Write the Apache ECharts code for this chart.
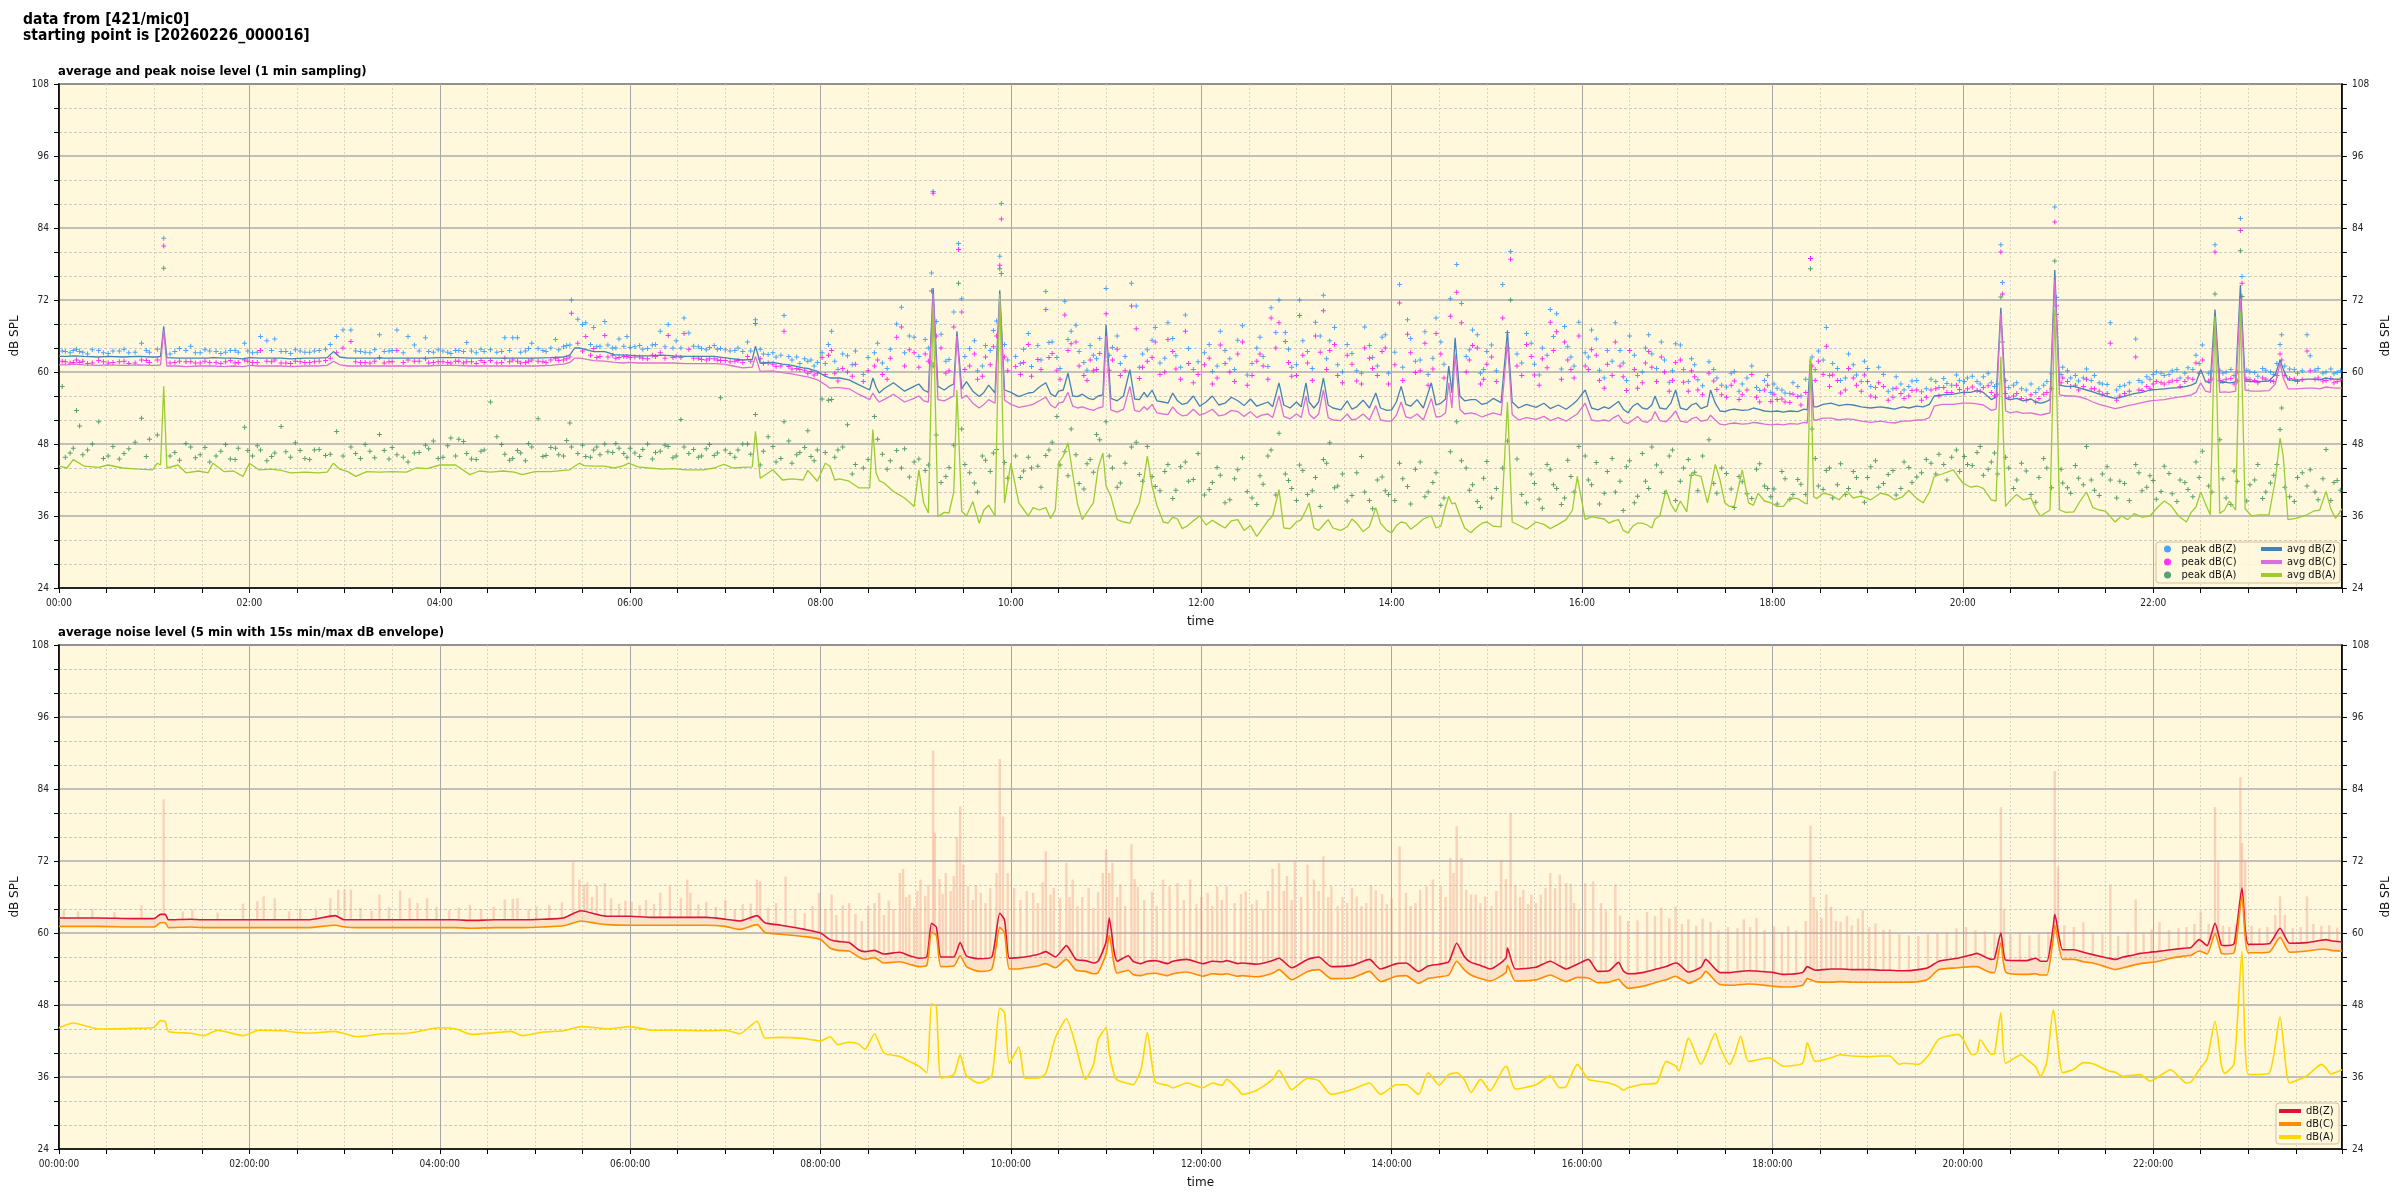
<!DOCTYPE html>
<html><head><meta charset="utf-8">
<script src="https://cdn.jsdelivr.net/npm/echarts@6/dist/echarts.min.js"></script>
<style>html,body{margin:0;padding:0;background:#fff}#c{width:2400px;height:1200px}</style>
</head><body><div id="c"></div>
<script>
// ---------- top plot: 1-min average lines (minutes since 00:00) ----------
const topT = [0,5,9,16,25,31,40,50,59,62,64,
 66,68,75,80,88,94,97,104,110,116,
 120,126,134,140,146,155,163,169,173,177,
 182,187,194,202,210,219,225,232,240,250,
 259,265,272,280,287,292,300,310,318,322,
 325,328,331,337,344,350,356,359,365,372,
 380,387,395,406,413,419,425,431,437,439,
 442,450,456,462,469,472,478,483,486,489,
 492,498,504,511,513,515,517,520,526,533,
 539,542,545,548,551,554,558,561,564,566,
 569,572,576,580,583,586,590,593,596,600,
 605,611,614,618,622,625,628,630,633,636,
 639,642,645,649,652,655,658,660,663,667,
 671,675,678,681,684,686,689,692,696,699,
 702,705,708,711,715,719,723,727,731,735,
 739,743,747,751,755,758,762,765,769,772,
 776,780,783,786,788,791,794,797,800,803,
 808,812,815,818,822,826,830,833,837,840,
 843,846,849,852,856,860,865,868,871,874,
 876,878,880,883,886,890,893,897,900,904,
 909,913,916,920,925,931,936,940,945,950,
 954,957,962,966,970,974,977,980,983,986,
 989,992,995,998,1001,1004,1006,1009,1013,1016,
 1019,1022,1026,1029,1032,1035,1039,1041,1044,1047,
 1050,1053,1056,1061,1065,1068,1071,1075,1079,1083,
 1087,1091,1096,1100,1102,1104,1106,1108,1112,1117,
 1122,1127,1131,1136,1142,1148,1153,1157,1162,1166,
 1171,1175,1179,1182,1187,1194,1200,1205,1209,1213,
 1218,1221,1224,1227,1230,1234,1238,1243,1246,1249,
 1252,1255,1258,1261,1265,1270,1274,1278,1282,1286,
 1290,1296,1300,1304,1308,1313,1318,1323,1327,1331,
 1336,1341,1344,1347,1350,1353,1356,1359,1362,1365,
 1368,1372,1375,1378,1382,1387,1393,1397,1400,1402,
 1405,1410,1417,1421,1425,1429,1432,1435,1439];
const avgZ = [62.6,62.6,62.7,62.6,62.5,62.6,62.5,62.6,62.5,62.5,62.6,
 67.6,62.4,62.3,62.3,62.3,62.3,62.4,62.3,62.3,62.2,
 62.4,62.3,62.3,62.3,62.2,62.3,62.3,62.4,63.4,62.5,
 62.3,62.3,62.3,62.3,62.3,62.3,62.3,62.3,62.4,62.4,
 62.3,62.3,62.3,62.3,62.3,62.3,62.3,62.4,62.5,62.8,
 64.0,64.0,63.8,63.4,63.4,62.9,62.8,62.8,62.7,62.7,
 62.8,62.7,62.6,62.6,62.6,62.4,62.2,62.0,62.1,64.3,
 61.5,61.6,61.3,61.1,60.7,60.6,60.1,59.3,59.0,59.0,
 59.0,58.7,57.9,57.0,59.0,57.5,56.5,57.2,58.2,56.8,
 57.6,58.0,57.0,56.6,74.0,57.6,57.0,57.6,58.0,66.8,
 57.2,58.4,56.8,55.9,56.6,57.8,56.5,73.6,57.0,56.6,
 55.9,56.5,56.6,57.5,58.2,56.4,55.9,56.8,57.0,59.8,
 56.0,55.9,56.3,55.6,55.4,56.0,56.2,67.9,55.6,55.2,
 56.0,60.4,55.5,55.4,56.6,55.8,57.0,55.2,55.0,54.8,
 56.5,55.2,54.6,54.8,56.0,54.3,55.0,56.0,54.5,54.8,
 55.8,55.2,54.4,55.5,54.3,54.6,55.0,54.2,58.2,54.5,
 54.0,55.0,54.2,58.2,55.0,54.0,55.0,59.0,54.5,54.0,
 53.7,55.2,53.8,54.2,55.3,54.0,56.5,54.0,53.6,53.7,
 55.0,57.6,54.6,54.3,55.4,54.0,58.2,54.5,54.8,55.5,
 61.0,56.5,65.7,56.0,55.2,55.4,55.4,54.6,54.8,55.6,
 54.9,66.8,55.0,54.0,54.6,54.1,54.8,53.9,54.5,53.8,
 54.6,55.3,57.0,54.0,53.7,54.2,53.9,54.5,55.1,53.8,
 53.2,54.3,54.8,54.0,53.8,54.5,56.0,54.0,53.8,54.8,
 57.0,54.0,53.7,54.5,54.8,53.9,54.3,57.0,54.8,53.5,
 53.4,53.7,53.8,53.6,53.7,54.0,53.8,53.5,53.4,53.5,
 53.3,53.5,53.4,53.8,53.7,62.3,54.2,54.2,54.6,54.8,
 54.4,54.6,54.5,54.2,54.0,54.2,54.0,53.8,54.2,54.0,
 54.3,54.2,54.6,56.0,56.2,56.3,56.6,56.6,56.9,56.6,
 55.4,55.8,70.7,55.6,55.4,55.6,55.2,55.5,55.0,54.8,
 55.0,55.4,77.0,57.8,57.6,57.6,57.3,57.0,56.7,56.3,
 56.0,55.6,55.8,56.1,56.4,56.6,57.0,57.1,57.2,57.3,
 57.4,57.6,57.8,58.2,60.4,58.4,58.2,70.4,58.2,58.3,
 58.2,58.3,74.5,58.5,58.4,58.4,58.5,59.6,62.0,60.5,
 58.7,58.6,58.8,58.8,58.7,59.0,58.8,58.8,58.8];
const avgC = [61.2,61.2,61.3,61.2,61.1,61.2,61.1,61.2,61.1,61.1,61.2,
 67.0,61.0,61.0,60.9,61.0,61.0,61.0,60.9,61.0,60.9,
 61.1,61.0,61.0,61.0,60.9,61.0,61.0,61.1,61.8,61.2,
 61.0,61.0,61.0,61.0,61.0,61.0,61.0,61.0,61.1,61.1,
 61.0,61.0,61.0,61.0,61.0,61.0,61.0,61.1,61.3,61.6,
 62.3,62.3,62.2,61.9,61.8,61.6,61.5,61.6,61.5,61.5,
 61.5,61.5,61.4,61.4,61.4,61.3,61.0,60.7,60.8,62.6,
 60.1,60.2,59.9,59.7,59.3,59.2,58.7,57.9,57.3,57.4,
 57.4,57.2,56.3,55.4,56.5,55.6,55.0,55.4,56.3,55.0,
 55.6,56.0,55.2,55.0,73.0,55.4,55.2,55.6,56.0,66.0,
 55.6,56.1,54.8,54.0,54.6,55.4,54.8,72.5,55.3,54.6,
 54.1,54.4,54.6,55.2,55.8,54.5,54.0,54.8,55.0,56.6,
 54.3,54.0,54.2,53.8,53.6,54.0,54.2,66.0,53.7,53.3,
 53.8,57.6,53.6,53.4,54.2,53.7,54.6,53.2,53.0,52.9,
 54.2,53.2,52.7,52.8,53.8,52.8,53.2,53.8,52.7,52.9,
 53.6,53.4,52.6,53.4,52.4,52.8,53.0,52.4,56.0,52.6,
 52.2,53.0,52.4,56.0,53.0,52.2,53.0,57.0,52.4,52.0,
 51.9,53.0,52.0,52.2,53.0,52.0,54.4,52.0,51.8,51.8,
 52.8,55.0,52.5,52.3,53.0,52.0,55.6,52.5,52.6,53.2,
 58.2,54.0,63.0,53.8,53.0,53.2,53.0,52.5,52.8,53.2,
 52.8,65.0,52.9,52.0,52.4,52.1,52.6,51.9,52.4,51.8,
 52.5,53.0,54.8,52.0,51.8,52.0,51.8,52.4,52.8,51.7,
 51.4,52.0,52.6,51.8,51.6,52.2,53.4,51.9,51.7,52.5,
 53.5,51.8,51.6,52.2,52.5,51.8,52.0,52.8,52.0,51.3,
 51.2,51.4,51.5,51.3,51.4,51.6,51.5,51.3,51.2,51.3,
 51.2,51.4,51.3,51.6,51.5,60.5,52.0,52.0,52.3,52.3,
 52.0,52.2,52.1,51.8,51.6,51.8,51.6,51.5,51.8,51.8,
 52.0,52.0,52.4,54.3,54.6,54.6,54.8,54.8,54.7,54.5,
 53.6,53.8,69.8,53.5,53.2,53.4,53.1,53.2,53.0,52.8,
 53.0,53.2,75.4,56.2,56.0,56.0,55.8,55.5,55.0,54.6,
 54.3,53.9,54.1,54.4,54.6,54.9,55.2,55.3,55.4,55.6,
 55.8,56.0,56.2,56.6,58.2,56.8,56.6,68.5,56.6,56.7,
 56.6,56.8,72.3,57.0,56.8,56.8,56.9,58.0,61.5,59.0,
 57.2,57.2,57.3,57.3,57.2,57.5,57.4,57.3,57.3];
const avgA = [44.3,44.0,45.4,44.3,44.1,44.5,44.0,43.8,43.7,44.8,44.5,
 57.6,44.0,44.5,43.2,43.5,43.2,44.8,43.4,43.5,42.6,
 44.8,43.7,43.8,43.6,43.2,43.3,43.2,43.3,44.8,43.8,
 43.4,42.6,43.4,43.3,43.4,43.3,44.0,43.9,44.5,44.5,
 42.9,43.5,43.3,43.5,43.3,42.9,43.4,43.4,43.6,43.7,
 44.3,44.8,44.4,44.3,44.3,44.0,44.4,44.8,44.2,44.0,
 43.8,43.9,43.7,43.7,44.0,44.6,44.0,44.1,44.2,50.1,
 42.3,43.7,42.0,42.2,42.0,43.6,41.8,44.8,44.3,42.0,
 42.2,41.8,40.7,40.7,50.4,43.2,41.9,41.5,40.1,39.0,
 37.6,43.7,38.2,36.5,71.0,35.9,36.6,36.5,40.0,57.0,
 36.8,36.0,38.4,34.8,37.0,37.8,36.0,73.0,38.2,44.8,
 38.2,36.0,37.4,37.0,37.4,35.6,37.0,44.8,46.0,48.2,
 43.0,38.0,35.4,37.0,38.2,44.0,46.5,41.0,39.3,35.4,
 35.0,34.8,36.6,38.2,42.5,46.0,41.0,37.8,35.0,34.8,
 35.8,35.5,33.9,34.3,35.2,36.0,34.5,35.3,34.6,34.0,
 35.2,35.4,33.6,34.4,32.6,33.7,35.2,36.0,40.4,34.0,
 33.9,35.0,35.4,37.0,38.2,34.0,33.6,34.5,35.4,34.0,
 33.6,34.2,35.5,34.8,33.4,34.2,37.4,34.8,33.6,33.2,
 34.4,35.0,34.8,33.8,34.6,35.5,36.0,34.0,34.3,37.5,
 39.3,38.0,38.2,36.0,34.0,33.2,34.0,34.8,35.0,34.3,
 34.2,55.0,35.0,34.5,33.8,35.0,34.6,33.9,34.6,35.4,
 37.0,42.6,35.4,35.9,35.7,35.5,34.8,35.2,35.4,33.6,
 33.2,34.3,34.8,34.8,34.5,34.0,35.5,36.0,40.4,38.0,
 36.7,38.5,36.7,43.2,42.8,42.6,38.2,40.5,44.6,42.0,
 38.2,37.6,37.6,43.7,38.2,37.8,39.8,38.5,38.2,37.6,
 37.6,39.0,38.9,38.2,38.0,62.3,39.2,38.9,39.8,39.5,
 38.7,40.1,39.0,39.3,38.7,39.8,39.5,38.7,39.2,40.3,
 38.9,38.2,40.0,42.6,43.0,43.7,41.5,40.8,41.0,40.6,
 38.7,38.5,62.6,37.6,38.6,39.6,38.7,39.0,37.2,36.0,
 36.5,37.0,70.4,37.0,36.6,36.7,38.5,40.0,37.4,37.0,
 36.8,35.0,36.0,35.4,36.4,35.8,36.0,37.5,38.5,37.8,
 36.0,35.0,36.6,37.5,40.0,38.0,36.2,69.3,36.4,37.0,
 38.5,37.0,70.1,37.2,36.0,36.2,36.2,42.0,49.0,46.0,
 35.4,35.6,36.2,36.8,37.0,40.1,37.2,35.6,37.2];

// ---------- top plot: 1-min peaks (a reading of the dots) ----------
const peakT = [2,7,11,13,18,25,31,38,44,52,57,
 62,66,70,76,83,89,95,102,108,113,117,
 122,127,131,136,140,146,152,158,164,171,175,179,
 184,190,196,202,208,213,220,224,231,236,
 242,247,252,257,263,268,272,276,281,286,289,294,298,
 302,307,313,318,322,323,327,330,332,337,341,344,349,353,358,
 363,368,374,379,384,389,392,394,397,403,408,413,417,
 423,428,434,439,442,447,452,457,462,467,472,476,481,
 485,487,491,497,502,507,514,519,524,528,531,536,
 542,546,550,551,556,561,567,569,574,579,584,589,593,594,598,
 603,608,613,617,622,626,629,634,638,643,648,652,656,660,
 664,669,676,679,683,689,694,699,704,710,715,
 722,727,732,738,743,749,755,759,764,769,773,777,
 782,787,792,797,801,806,812,818,823,828,834,838,
 842,845,850,855,861,866,871,877,881,884,889,894,898,
 903,910,915,919,925,930,935,940,944,949,953,958,
 962,966,971,976,981,986,990,995,1000,1004,1010,1015,1019,
 1024,1029,1033,1040,1045,1051,1056,1061,1067,1072,1077,
 1083,1088,1093,1098,1104,1105,1109,1114,1118,1123,1128,1133,1138,
 1142,1147,1153,1158,1163,1168,1174,1180,1185,1190,1196,
 1201,1206,1211,1216,1220,1224,1225,1229,1234,1240,1246,1251,1256,1258,1259,
 1263,1268,1273,1278,1283,1288,1293,1297,1302,1309,1313,1318,
 1322,1327,1332,1337,1342,1347,1351,1355,1359,1362,1366,1371,1375,1376,
 1381,1386,1391,1396,1400,1401,1406,1411,1417,1419,1424,1429,1434,1438,
 4,9,15,21,28,34,41,48,55,73,80,86,92,99,105,111,119,
 125,134,143,149,155,161,168,187,193,199,205,210,217,227,233,239,
 245,250,255,260,266,279,284,291,296,305,310,315,320,335,339,346,
 351,356,360,366,371,376,382,387,400,405,410,415,420,426,431,436,
 444,450,455,460,465,470,474,478,483,
 489,494,500,510,516,522,533,539,548,553,559,564,571,577,582,587,591,596,
 606,611,619,624,631,636,641,646,650,654,662,667,672,681,686,691,697,702,
 707,712,718,725,730,735,741,746,752,757,762,767,775,780,784,790,795,799,
 804,809,815,821,826,831,836,847,852,858,863,868,873,887,891,896,900,906,
 913,922,928,933,938,942,947,951,955,
 964,969,974,979,984,988,993,998,1002,1007,1012,1017,1022,1027,1031,1036,
 1043,1048,1054,1059,1064,1070,1075,1079,
 1081,1086,1091,1096,1101,1107,1112,1116,1121,1126,1131,1136,1140,1145,
 1150,1156,1161,1166,1171,1177,1183,1188,1193,1198,
 1203,1209,1213,1218,1222,1227,1232,1237,1243,1248,1253,1262,1266,1271,
 1276,1281,1286,1291,1299,1305,1311,1316,1320,1325,1330,1335,1340,1345,
 1349,1357,1364,1369,1373,1379,1384,1389,1394,1398,1403,1409,1414,1422,
 1427,1432,1436];
const peakZ = [63.5,63.2,63.8,63.4,63.0,63.6,63.1,63.5,63.2,64.8,63.3,
 63.8,82.3,63.0,63.9,64.3,63.2,63.5,63.1,63.6,63.3,64.8,
 63.2,65.9,65.2,65.5,63.4,63.1,63.5,63.3,63.6,64.6,65.9,67.0,
 67.0,63.4,63.2,66.2,63.5,67.0,65.9,64.5,65.7,63.3,
 63.5,63.1,63.6,64.9,63.2,63.4,63.7,63.3,65.7,65.7,65.7,63.5,64.8,
 63.9,63.4,65.4,64.2,64.5,72.0,68.8,67.9,68.2,67.4,64.3,68.4,64.0,65.5,65.9,
 64.2,63.8,64.5,66.8,67.9,65.2,64.0,69.0,66.5,64.2,63.7,64.4,63.9,
 63.5,64.0,65.0,68.7,63.8,62.9,62.5,69.4,62.0,61.4,61.8,61.0,63.2,
 64.6,66.8,60.4,62.7,63.5,59.6,63.2,61.5,63.8,68.0,70.8,66.0,
 62.6,65.4,76.5,90.1,66.3,62.1,81.4,72.2,63.9,60.2,64.4,66.9,79.3,88.1,62.0,
 62.6,63.8,60.9,64.4,73.4,65.0,62.4,71.8,66.8,63.4,60.3,62.8,65.6,73.9,
 64.1,61.4,74.8,71.0,63.0,65.3,61.5,68.2,62.7,69.5,60.4,
 63.2,60.1,66.8,62.2,65.3,59.5,64.0,62.6,70.7,72.0,66.6,60.8,
 72.0,63.4,68.3,72.8,65.2,61.2,64.6,60.2,67.5,62.4,65.8,59.8,
 63.3,74.6,68.7,61.8,66.7,62.3,65.0,72.2,77.9,71.4,63.7,66.2,60.4,
 64.5,74.6,80.1,63.0,66.4,61.3,64.0,70.4,69.7,67.6,62.5,68.3,
 63.2,67.0,60.3,63.6,68.2,61.5,66.0,59.4,64.0,63.0,65.0,58.3,64.7,
 60.4,62.2,58.7,61.7,59.0,57.5,60.1,58.0,61.0,56.9,59.4,
 57.3,56.5,58.2,56.0,78.9,62.5,63.5,67.4,61.4,58.6,63.0,59.5,61.8,
 57.6,60.8,56.8,59.2,57.0,58.5,56.7,58.8,57.4,58.1,59.5,
 58.4,59.3,58.0,59.8,57.6,81.2,74.9,57.4,58.2,57.0,56.6,57.8,59.7,87.5,72.4,
 60.8,59.0,58.5,60.5,59.4,58.0,68.2,57.0,57.8,65.5,58.3,58.8,
 60.0,59.4,60.2,59.0,60.7,62.8,64.5,59.8,81.2,60.3,60.0,59.4,85.6,75.9,
 60.0,59.3,60.3,59.6,64.6,66.2,60.5,59.8,66.2,62.7,60.6,60.0,59.7,60.2,
 63.4,63.6,63.3,63.7,63.2,63.5,63.8,63.3,63.6,63.4,63.6,63.2,63.7,63.4,63.3,63.6,63.5,
 63.3,63.6,63.4,63.7,63.3,63.5,63.8,63.5,63.3,63.7,63.4,63.6,63.2,63.5,63.4,63.7,
 63.3,63.6,63.4,63.5,63.8,63.4,63.6,63.3,63.9,63.6,64.0,63.7,64.4,64.6,64.2,64.5,
 64.0,64.3,64.1,64.4,63.9,64.6,64.2,64.0,64.3,63.9,64.1,63.8,63.7,63.6,63.4,63.5,
 63.0,63.2,62.8,62.6,62.5,62.2,62.0,61.6,61.4,
 61.8,63.0,61.2,62.4,64.8,60.6,63.2,65.8,64.0,68.4,61.8,70.0,62.6,65.2,61.0,63.6,68.5,64.6,
 61.4,66.4,62.0,64.9,60.6,65.4,67.8,61.6,64.4,62.2,62.8,66.0,62.6,60.8,63.7,67.4,62.3,65.6,
 60.8,63.9,61.7,64.6,61.0,63.6,60.4,67.7,61.4,65.8,60.9,66.6,63.8,61.2,65.2,60.6,66.0,62.2,
 67.4,60.0,63.1,59.8,64.4,61.0,66.2,60.8,65.6,62.0,59.6,69.0,61.3,62.6,67.0,59.8,63.4,60.2,
 66.6,61.5,64.8,59.5,62.8,65.9,60.5,64.2,61.0,
 62.5,65.5,59.0,61.8,63.6,58.6,62.8,60.0,66.2,60.6,62.0,60.2,64.5,58.4,61.2,57.7,
 60.4,57.8,59.8,56.8,59.0,57.4,58.6,56.6,
 58.0,57.0,56.4,57.6,58.8,60.4,62.0,59.4,60.6,59.0,61.2,58.4,60.6,57.4,
 59.6,57.2,58.0,57.6,58.6,57.2,58.4,58.9,57.8,58.6,
 59.0,58.4,59.2,58.2,58.0,58.6,57.8,57.2,58.0,57.2,58.4,59.6,60.2,59.4,
 59.0,58.6,58.2,57.9,57.6,58.2,58.6,59.2,59.6,59.8,59.6,60.4,59.8,60.4,
 61.4,60.2,59.8,60.4,60.0,60.3,59.9,60.6,60.0,61.4,61.0,60.4,60.2,60.3,
 59.8,60.5,59.9];
const peakC = [61.8,61.5,62.0,61.6,61.4,61.9,61.5,61.7,61.4,62.0,61.6,
 62.0,81.0,61.5,61.8,61.7,61.5,61.6,61.4,61.9,61.6,62.0,
 61.6,63.6,61.8,62.0,61.5,61.4,61.7,61.6,61.8,62.3,63.2,64.0,
 65.1,61.6,61.5,62.4,61.7,63.6,62.0,61.8,62.2,61.6,
 61.7,61.5,61.8,61.7,61.4,61.6,61.9,61.5,62.3,62.0,61.8,61.6,62.0,
 61.8,61.6,62.2,62.0,62.5,69.8,64.8,63.5,65.9,63.9,62.6,66.1,62.8,62.4,62.6,
 62.5,62.3,62.8,63.2,66.1,62.6,62.4,66.4,63.8,62.3,62.0,62.2,61.9,
 61.7,61.9,62.6,68.1,62.2,61.5,60.9,66.8,60.5,60.4,59.8,59.5,62.4,
 62.8,63.6,58.5,60.0,61.3,58.4,61.0,59.6,62.3,65.8,67.5,63.7,
 60.8,63.0,73.5,89.8,64.0,60.2,80.4,70.0,61.0,58.8,62.5,64.2,77.8,85.5,60.2,
 60.9,61.6,59.3,62.1,70.4,63.1,60.3,69.5,64.7,61.0,58.6,60.2,63.1,69.7,
 62.0,59.4,71.0,67.2,60.8,62.4,59.6,65.4,60.5,66.8,58.2,
 61.2,58.0,64.5,60.0,63.0,57.8,61.8,61.0,69.0,68.2,65.1,59.3,
 69.4,61.5,66.0,70.2,63.6,59.4,62.8,58.5,64.0,60.6,63.4,58.0,
 61.2,71.5,66.3,59.9,64.8,60.5,63.0,69.3,73.3,68.2,62.0,64.0,58.8,
 62.5,69.0,78.8,61.0,64.6,59.5,62.2,68.3,66.7,65.0,60.4,66.0,
 61.0,63.7,58.6,61.3,65.0,59.2,63.6,57.3,61.5,60.8,62.5,56.8,61.6,
 58.3,60.2,57.0,59.8,57.1,55.8,58.5,56.2,59.6,55.0,57.8,
 55.4,55.0,56.3,54.5,78.9,61.0,61.8,64.3,59.5,56.5,60.6,57.8,59.5,
 56.0,58.2,55.3,57.3,55.6,56.9,55.3,57.0,56.0,56.6,57.8,
 56.6,57.5,56.8,57.7,56.0,80.0,73.0,55.7,56.4,55.3,55.0,56.3,57.2,85.0,71.0,
 59.0,57.6,57.0,58.8,57.2,56.3,64.8,55.3,56.4,62.5,56.9,57.2,
 58.4,58.0,58.5,57.6,59.0,61.5,62.0,58.5,80.0,58.6,58.8,58.0,83.6,74.8,
 58.7,58.2,58.8,58.4,63.0,62.0,58.9,58.4,63.5,60.2,59.0,58.6,58.2,58.7,
 61.7,61.6,61.8,61.5,61.7,61.6,61.8,61.5,61.9,61.6,61.7,61.5,61.8,61.6,61.7,61.5,61.8,
 61.6,61.7,61.5,61.8,61.6,61.7,61.9,61.7,61.6,61.8,61.5,61.7,61.6,61.8,61.5,61.7,
 61.6,61.8,61.5,61.7,61.9,61.6,61.7,61.5,61.8,61.7,62.0,61.9,62.2,62.8,62.4,62.5,
 62.3,62.6,62.4,62.5,62.2,62.6,62.3,62.4,62.3,62.1,62.2,62.0,61.9,61.8,61.6,61.8,
 61.4,61.3,61.0,60.9,60.6,60.3,60.1,59.8,59.6,
 59.8,60.6,59.3,60.2,62.0,58.8,61.0,63.2,61.8,66.0,59.8,67.5,60.4,63.0,59.3,61.2,66.0,62.5,
 59.6,64.6,60.4,62.4,58.8,63.6,65.0,59.4,62.0,60.4,60.3,63.8,60.2,58.9,61.8,65.0,60.0,63.4,
 58.8,61.4,59.6,62.3,59.0,61.4,58.4,65.0,59.4,63.0,58.8,64.0,61.6,59.4,62.8,58.6,63.3,60.4,
 64.6,58.2,61.3,58.0,62.3,59.4,64.0,58.6,63.2,60.2,57.8,66.4,59.0,60.0,64.4,58.0,61.3,58.4,
 64.0,59.4,62.6,57.8,60.7,63.6,58.8,62.0,59.0,
 60.4,62.8,57.3,59.4,61.0,56.9,60.4,58.2,63.4,58.4,60.0,58.6,62.0,56.8,59.2,56.2,
 58.5,56.2,57.8,55.4,57.0,55.8,57.0,55.1,
 56.3,55.5,54.9,55.9,56.6,58.6,59.6,57.6,58.6,57.0,59.0,56.8,58.4,55.8,
 57.6,55.8,56.4,56.0,57.0,55.8,57.2,57.4,56.6,57.1,
 57.2,56.9,57.4,56.6,56.2,56.4,56.0,55.6,56.2,55.6,56.6,58.2,58.4,57.8,
 57.6,57.2,56.8,56.4,56.0,56.8,57.0,57.6,58.0,58.2,58.3,58.6,58.4,58.8,
 59.8,58.8,58.4,58.9,58.5,58.8,58.6,59.0,58.6,59.4,59.4,58.8,58.7,58.8,
 58.5,58.9,58.4];
const peakA = [57.6,46.5,53.6,51.0,47.0,51.7,46.0,45.5,47.2,52.3,48.8,
 49.5,77.3,46.0,45.3,47.5,46.2,45.0,46.8,45.5,47.3,50.8,
 46.0,47.0,45.2,46.5,50.9,45.8,46.9,45.4,47.1,46.3,50.1,46.0,
 47.5,45.6,46.8,49.6,45.5,46.2,45.0,46.5,47.8,48.5,
 45.8,49.0,48.8,46.4,45.4,47.0,55.0,49.2,46.3,45.6,46.9,45.2,47.5,
 52.2,46.1,47.3,46.0,51.5,47.5,46.4,47.8,45.9,47.0,46.2,48.0,46.6,47.3,45.8,
 46.5,47.1,45.5,46.8,47.6,46.0,52.1,47.5,46.4,45.8,47.2,46.1,55.7,
 46.4,47.0,48.0,52.9,44.5,49.2,45.0,51.7,44.8,46.6,50.2,45.2,55.5,
 55.3,55.4,47.0,51.2,44.6,44.0,52.6,46.3,45.2,46.9,44.0,42.5,
 45.5,43.6,61.5,61.0,41.6,44.1,74.8,50.5,43.2,40.0,45.3,46.5,77.2,76.4,42.3,
 46.0,43.5,44.0,44.3,46.1,48.3,52.6,46.7,50.5,41.4,44.7,43.3,48.7,51.7,
 44.0,41.5,47.5,48.3,41.8,42.6,40.2,44.6,40.3,45.0,42.1,
 39.5,41.6,42.8,38.7,43.7,40.1,37.9,41.3,47.0,49.8,43.0,40.6,
 44.5,39.6,42.4,45.4,48.2,41.0,38.5,43.2,40.0,37.2,42.5,39.6,
 38.6,44.8,40.9,43.8,39.2,41.6,37.8,46.7,51.7,45.2,40.3,38.4,42.3,
 39.0,44.0,72.0,45.5,38.2,41.4,37.3,43.7,40.6,39.0,42.6,47.6,
 46.0,41.2,38.0,43.4,40.0,36.9,45.2,39.3,41.8,47.5,43.3,46.0,38.6,
 44.0,42.8,40.2,48.7,39.8,43.1,37.4,41.7,38.9,44.7,40.6,
 38.0,42.2,39.6,41.3,77.2,50.5,41.0,43.6,39.0,44.7,40.6,42.4,38.3,
 44.2,40.8,42.9,39.5,45.0,41.6,43.2,44.8,46.3,42.0,47.0,
 45.9,44.4,47.6,43.8,46.5,72.5,65.0,44.0,42.0,43.5,38.3,45.6,40.7,78.5,69.6,
 41.5,39.8,42.3,47.6,40.3,43.0,42.0,39.0,41.4,44.6,40.2,42.7,
 38.8,44.3,39.7,42.0,40.4,45.0,46.8,41.0,73.0,48.7,39.0,43.5,80.2,72.6,
 41.2,44.6,40.0,42.8,50.4,54.0,39.2,42.4,41.0,43.7,38.7,47.1,41.6,40.3,
 45.8,47.3,46.2,48.0,45.6,47.6,46.4,48.3,45.9,46.6,48.1,45.7,47.4,46.0,47.9,45.4,46.9,
 47.7,45.9,46.7,48.2,45.6,47.0,46.1,46.4,47.9,45.7,46.9,47.4,45.8,46.6,47.2,45.6,
 47.7,46.0,48.4,45.5,46.8,47.9,45.3,46.5,48.1,45.9,47.4,46.2,48.6,45.8,47.5,46.7,
 48.1,46.4,47.3,45.9,48.0,46.6,47.8,45.7,47.1,46.0,47.9,46.5,47.0,45.8,48.0,46.3,
 46.8,47.6,45.6,48.5,46.2,47.4,45.9,47.0,46.6,
 45.8,47.5,43.0,45.4,48.8,43.8,47.2,45.0,44.5,49.5,42.6,47.8,44.6,41.5,46.0,43.4,47.1,44.9,
 42.4,45.8,40.8,47.0,44.5,42.7,46.2,40.5,45.4,49.6,46.0,40.8,44.8,42.9,47.6,40.9,43.4,38.9,
 44.2,41.8,46.4,40.4,44.1,38.2,42.2,45.7,39.0,42.7,46.0,39.5,41.9,38.6,43.6,40.2,37.6,44.8,
 40.7,43.0,39.4,45.9,38.6,42.0,40.2,42.2,38.0,45.0,40.0,43.2,39.0,44.0,41.2,37.4,45.1,40.6,
 48.5,39.6,43.0,38.8,44.6,41.2,37.9,45.3,40.0,
 42.0,44.9,39.8,45.6,41.8,44.2,38.2,46.4,40.6,44.5,39.8,47.0,41.8,45.4,43.3,46.0,
 41.4,44.0,40.5,42.6,39.7,43.8,41.0,39.2,
 40.5,43.4,38.8,42.1,39.6,45.6,40.4,44.0,41.2,39.6,43.4,40.0,42.4,45.2,
 41.4,43.6,40.6,44.1,42.5,45.4,43.0,44.6,45.8,43.4,
 44.6,46.6,42.8,45.0,43.0,45.8,40.6,44.8,39.6,42.4,44.0,43.8,40.7,44.4,
 41.2,42.0,39.4,44.2,41.8,38.6,43.2,40.8,41.9,40.1,43.1,38.4,41.6,39.2,
 42.4,40.0,42.2,37.9,41.8,38.5,42.0,38.9,41.5,44.6,40.8,38.4,43.2,40.0,
 42.2,38.6,41.9];

// ---------- bottom plot: 5-min averages ----------
const botT = [0,9,25,47,60,64,67,69,83,91,
 100,116,126,140,157,174,180,188,204,220,
 240,250,260,275,285,292,305,318,329,339,
 345,360,373,390,408,420,429,440,445,455,
 470,480,486,491,498,504,508,514,520,530,
 536,542,547,550,553,556,564,568,572,580,
 588,593,596,599,605,609,617,622,628,635,
 641,647,652,655,660,662,665,667,674,677,
 682,686,691,699,702,711,721,727,733,736,
 743,746,755,765,769,777,787,794,802,815,
 826,833,843,849,857,863,870,876,881,886,
 890,896,902,912,913,918,931,940,946,950,
 957,964,970,977,983,986,989,998,1007,1013,
 1019,1021,1026,1027,1035,1038,1044,1047,1053,1056,
 1060,1065,1078,1081,1087,1099,1102,1107,1117,1123,
 1130,1142,1148,1154,1160,1163,1172,1178,1185,1197,
 1200,1206,1209,1211,1218,1220,1224,1227,1237,1240,
 1246,1249,1253,1257,1258,1263,1270,1276,1282,1292,
 1296,1301,1307,1312,1318,1322,1331,1341,1344,1349,
 1354,1359,1363,1365,1371,1376,1380,1393,1400,1406,
 1417,1426,1429,1432,1439];
const botZ = [62.5,62.5,62.5,62.4,62.4,63.1,63.1,62.2,62.3,62.2,
 62.2,62.2,62.2,62.2,62.2,62.9,62.2,62.2,62.2,62.2,
 62.2,62.2,62.1,62.2,62.2,62.2,62.3,62.5,63.7,63.1,
 62.8,62.8,62.6,62.6,62.6,62.3,62.0,62.9,61.7,61.3,
 60.6,60.0,58.9,58.6,58.4,57.2,56.9,57.1,56.5,56.8,
 56.2,55.8,56.0,61.6,61.0,56.0,56.0,58.4,56.2,55.7,
 56.0,63.3,62.2,55.8,55.9,56.0,56.4,56.9,56.0,57.9,
 55.6,55.4,55.0,55.3,58.5,62.5,57.0,55.3,56.2,55.3,
 54.9,55.3,55.4,54.9,55.3,55.6,54.9,55.3,55.2,55.4,
 54.9,55.0,54.8,55.4,55.8,54.2,55.6,56.0,54.4,54.6,
 55.6,54.0,54.9,55.0,53.6,54.5,54.8,55.2,58.3,56.0,
 55.1,54.6,54.0,55.8,57.5,54.0,54.3,55.3,54.5,54.0,
 54.8,55.6,53.6,53.7,55.1,53.7,53.2,53.4,54.0,54.4,
 55.0,54.8,53.6,53.5,54.3,55.6,54.0,53.4,53.4,53.5,
 53.6,53.7,53.5,53.4,53.1,53.4,54.4,53.8,54.0,54.0,
 53.9,53.9,53.8,53.8,53.7,53.7,53.9,54.2,55.3,55.8,
 56.0,56.4,56.6,56.4,55.6,55.7,60.0,55.5,55.4,55.4,
 55.8,55.3,55.3,61.0,63.1,57.2,57.2,56.8,56.4,55.8,
 55.6,56.0,56.3,56.6,56.8,56.9,57.2,57.5,57.6,58.9,
 57.9,61.6,58.0,57.9,58.2,67.5,58.1,58.2,60.8,58.3,
 58.4,58.8,58.9,58.7,58.5];
const botC = [61.1,61.1,61.1,61.0,61.0,61.7,61.7,60.9,61.0,60.9,
 60.9,60.9,60.9,60.9,60.9,61.3,61.0,60.9,60.9,60.9,
 60.9,60.9,60.8,60.9,60.9,60.9,61.0,61.2,62.0,61.6,
 61.4,61.3,61.3,61.3,61.3,61.1,60.6,61.4,60.1,59.8,
 59.4,58.9,57.5,57.1,57.0,56.0,55.6,55.9,55.0,55.2,
 54.8,54.4,54.6,60.1,59.6,54.4,54.5,56.2,54.4,53.6,
 54.0,60.9,60.0,54.0,54.0,54.2,54.5,54.9,54.2,55.6,
 53.8,53.6,53.2,53.4,56.5,59.6,54.8,53.3,53.8,53.1,
 52.9,53.2,53.3,52.9,53.2,53.5,52.8,53.2,53.1,53.2,
 52.8,52.9,52.7,53.3,53.9,52.2,53.6,53.9,52.4,52.5,
 53.6,51.9,52.8,52.9,51.6,52.4,52.7,53.0,55.3,53.8,
 53.0,52.4,52.0,53.4,54.6,52.0,52.2,53.0,52.3,51.9,
 52.6,52.5,51.7,51.8,52.3,51.4,50.8,51.1,51.8,52.2,
 52.8,52.5,51.8,51.6,52.6,53.6,52.0,51.4,51.3,51.3,
 51.4,51.5,51.2,51.1,51.0,51.3,52.4,51.9,51.8,51.9,
 51.8,51.8,51.8,51.8,51.8,51.8,51.9,52.3,53.9,54.2,
 54.3,54.4,54.4,54.2,53.4,53.4,58.4,53.5,53.1,53.1,
 53.2,53.0,53.0,59.0,61.3,55.6,55.6,55.2,55.0,54.2,
 53.9,54.2,54.6,54.9,55.1,55.2,55.8,56.2,56.3,57.0,
 56.5,59.9,56.6,56.5,56.7,66.1,56.7,56.8,59.3,56.8,
 57.0,57.3,57.3,57.1,57.0];
const botA = [44.2,45.0,44.0,44.1,44.3,45.4,45.2,43.6,43.3,42.9,
 43.8,42.9,43.8,43.7,43.3,43.6,43.2,42.7,43.2,43.3,
 44.2,44.0,43.1,43.4,43.6,42.9,43.5,43.7,44.4,44.2,
 44.0,44.4,43.8,43.8,43.7,43.8,43.2,45.3,42.5,42.6,
 42.4,42.0,42.7,41.4,41.8,41.5,40.6,43.2,40.0,39.4,
 38.6,37.8,36.7,48.2,47.8,35.8,36.4,39.7,36.2,35.0,
 36.2,47.5,46.7,38.3,41.0,35.8,35.8,36.6,42.5,45.7,
 41.1,35.6,38.0,42.2,44.2,40.0,36.5,35.5,34.9,34.7,
 37.2,43.4,35.2,34.6,34.2,35.0,34.2,35.0,34.6,35.6,
 34.0,33.1,33.8,35.6,37.1,33.9,35.8,35.4,33.1,33.9,
 35.0,33.1,34.7,34.7,33.1,36.7,34.7,36.4,36.7,35.5,
 33.4,35.6,33.7,37.8,37.6,34.0,34.7,36.2,34.2,34.4,
 38.1,35.6,35.3,35.0,34.4,33.8,34.2,34.8,35.0,38.6,
 37.8,37.0,41.8,42.5,38.1,39.6,43.3,41.0,38.1,39.6,
 42.8,38.6,39.2,38.8,37.8,38.3,41.7,38.6,39.2,39.7,
 39.5,39.4,39.5,39.5,38.1,38.3,38.1,39.5,42.3,43.1,
 42.4,39.7,40.0,42.2,39.8,39.9,46.7,38.3,39.7,39.0,
 37.7,36.1,38.5,47.2,46.0,36.7,37.3,38.4,38.2,37.0,
 36.8,36.1,36.3,36.4,35.3,35.8,37.2,35.0,35.2,37.2,
 39.0,45.3,38.0,36.6,38.2,56.9,36.4,36.6,46.0,35.0,
 36.2,38.1,37.5,36.5,37.2];

// ---------- bottom plot: 15 s min/max envelope spikes ----------
const envT = [3,12,21,35,52,66,78,84,100,116,
 125,129,136,145,152,162,171,176,180,184,
 190,197,202,208,215,221,226,232,238,246,
 252,259,266,274,281,286,289,296,301,309,
 317,324,328,331,333,336,339,344,348,353,
 357,361,366,370,375,379,385,392,396,398,
 403,408,414,420,426,431,436,440,442,447,
 452,458,464,470,475,479,483,487,490,494,
 498,502,506,510,514,517,520,523,526,530,
 532,534,536,539,541,543,546,548,551,552,
 555,557,559,562,564,566,568,570,573,576,
 578,581,584,587,591,593,595,598,602,606,
 610,614,617,620,622,625,627,631,635,637,
 639,642,645,649,652,655,658,660,662,664,
 667,669,672,676,678,680,684,689,692,696,
 700,705,709,713,717,720,724,727,730,733,
 736,741,745,748,752,755,759,762,765,769,
 772,774,777,779,783,787,791,794,797,800,
 802,806,809,812,815,818,821,824,827,830,
 834,837,840,845,849,852,855,858,862,866,
 871,874,877,879,881,884,887,890,893,896,
 899,903,906,909,912,915,918,921,923,926,
 928,931,934,937,940,943,946,950,953,955,
 958,962,967,972,975,981,984,989,995,1001,
 1006,1010,1015,1019,1023,1027,1032,1036,1041,1046,
 1052,1058,1062,1066,1070,1075,1081,1086,1090,1095,
 1101,1104,1106,1108,1111,1114,1117,1120,1123,1127,
 1130,1134,1137,1141,1145,1150,1154,1160,1166,1172,
 1178,1184,1190,1196,1202,1208,1214,1220,1224,1226,
 1230,1236,1242,1248,1254,1258,1260,1264,1270,1276,
 1282,1288,1293,1298,1304,1309,1314,1319,1324,1330,
 1336,1341,1346,1350,1355,1359,1361,1364,1368,1372,
 1375,1376,1378,1382,1387,1392,1397,1400,1403,1408,
 1413,1417,1421,1426,1431,1436];
const envLo = [62.5,62.5,62.5,62.4,62.4,63.1,62.3,62.3,62.2,62.2,
 62.2,62.2,62.2,62.2,62.2,62.2,62.5,62.9,62.5,62.3,
 62.2,62.2,62.2,62.2,62.2,62.2,62.2,62.2,62.2,62.2,
 62.2,62.1,62.2,62.2,62.2,62.2,62.2,62.2,62.3,62.4,
 62.5,63.0,63.5,63.7,63.6,63.4,63.1,62.8,62.8,62.8,
 62.8,62.8,62.7,62.6,62.6,62.6,62.6,62.6,62.6,62.6,
 62.6,62.6,62.5,62.3,62.1,62.0,62.0,62.9,62.0,61.6,
 61.4,61.2,60.9,60.6,60.3,60.0,59.5,58.9,58.7,58.5,
 58.4,57.8,57.0,56.9,57.1,56.8,56.5,56.6,56.8,56.8,
 56.6,56.4,56.2,56.0,55.9,55.8,56.0,56.2,60.0,61.5,
 56.5,56.0,56.0,56.0,56.2,57.5,58.4,57.8,56.4,56.0,
 55.8,55.7,55.8,56.0,57.5,63.3,62.0,56.5,55.9,56.0,
 56.0,56.2,56.4,56.7,56.9,56.5,56.2,56.6,57.9,57.0,
 56.2,55.6,55.5,55.4,55.0,55.3,56.5,58.5,62.0,57.0,
 55.3,55.5,55.8,56.0,55.3,55.0,55.0,55.3,55.4,55.0,
 54.9,55.3,55.5,55.6,55.2,54.9,55.2,55.3,55.2,55.2,
 55.4,55.0,55.0,54.9,54.8,54.8,55.0,55.2,55.4,55.8,
 55.0,54.5,54.2,54.8,55.3,55.6,55.8,56.0,55.5,54.7,
 54.4,54.5,54.5,54.6,54.6,54.8,55.2,55.5,55.6,55.0,
 54.0,54.3,54.6,54.9,55.0,54.5,53.8,53.8,54.5,54.6,
 54.8,55.0,55.2,56.5,58.3,56.5,55.6,55.1,54.9,54.6,
 54.2,54.1,54.8,55.5,55.8,57.0,54.5,54.0,54.0,54.1,
 54.2,54.3,54.5,54.8,55.3,55.0,54.5,54.0,54.3,54.6,
 54.8,55.4,55.0,53.7,53.7,54.6,54.8,53.2,53.3,53.6,
 53.9,54.2,54.6,55.0,54.4,53.5,54.0,54.5,55.3,53.6,
 53.4,53.5,53.6,53.7,53.6,53.5,53.4,53.1,53.2,53.3,
 54.0,54.4,54.0,53.8,53.9,54.0,54.0,54.0,54.0,53.9,
 53.9,53.9,53.9,53.9,53.8,53.8,53.8,53.7,53.8,53.9,
 54.2,55.2,55.5,55.8,56.1,56.5,56.2,55.7,60.0,56.0,
 55.5,55.4,55.5,55.5,55.3,63.1,60.0,57.2,57.2,56.8,
 56.4,56.0,55.8,55.7,56.1,56.4,56.7,56.8,57.0,57.2,
 57.4,57.5,58.0,58.9,58.0,61.6,60.0,58.0,58.0,58.2,
 66.0,67.5,62.0,58.1,58.1,58.2,59.0,60.8,59.5,58.3,
 58.4,58.4,58.6,58.8,58.7,58.6];
const envHi = [63.9,63.6,64.0,63.5,64.6,82.3,63.6,63.9,63.4,64.9,
 65.3,66.1,65.8,63.6,64.0,63.8,65.8,67.2,67.2,67.2,
 64.2,63.7,66.4,64.3,67.1,65.8,65.0,65.8,64.4,63.8,
 64.2,64.7,64.0,64.4,65.6,65.7,65.8,64.0,64.4,64.7,
 65.1,71.8,68.9,68.1,68.4,66.0,67.9,68.3,65.8,64.9,
 65.4,65.2,64.6,65.5,64.8,66.7,67.8,65.8,68.9,66.7,
 64.8,65.2,64.3,65.5,64.0,64.8,64.9,68.9,68.6,64.2,
 65.0,69.4,64.0,63.3,64.5,66.7,64.0,66.4,63.0,64.6,
 65.0,63.2,62.0,64.5,65.0,66.7,63.0,65.4,64.0,70.0,
 70.7,66.0,66.4,64.2,67.0,68.9,66.2,68.0,90.4,76.7,
 69.0,66.5,70.0,67.0,69.5,76.0,81.1,71.4,67.8,65.5,
 68.0,66.7,65.0,67.5,70.0,89.0,79.4,70.0,67.5,65.5,
 67.0,66.7,65.0,68.5,73.6,66.4,67.5,65.8,71.7,66.0,
 68.9,64.5,66.0,67.5,64.2,66.8,70.0,73.9,70.0,71.7,
 66.0,68.1,64.5,74.8,69.0,67.7,65.5,66.9,64.5,68.9,
 67.8,68.3,65.5,68.9,64.8,66.0,66.7,64.5,67.8,65.5,
 67.8,65.0,66.5,66.9,64.8,65.5,64.0,67.0,70.7,71.7,
 67.0,69.5,65.5,71.9,66.0,71.4,68.9,67.0,72.8,66.0,
 67.8,64.5,66.0,65.0,67.5,66.1,64.5,65.0,68.0,67.1,
 66.5,64.8,65.8,74.4,66.7,64.5,65.0,67.2,67.8,68.9,
 67.8,66.0,72.5,70.0,77.8,72.5,67.2,66.4,66.4,65.0,
 66.1,64.5,67.0,72.2,69.0,80.0,68.0,66.0,67.2,64.8,
 66.4,65.0,66.4,67.5,70.0,67.5,69.7,68.3,68.2,65.0,
 64.0,68.3,68.6,65.0,63.8,68.1,62.9,62.0,62.1,63.5,
 62.8,64.2,62.5,64.4,61.5,62.3,61.2,62.4,61.8,60.4,
 61.0,60.8,62.3,61.0,62.5,60.5,61.1,60.2,61.1,60.4,
 62.0,77.9,66.0,63.8,62.5,66.4,64.4,62.0,61.9,62.8,
 61.3,62.4,63.9,61.0,61.6,60.5,60.6,59.8,59.6,59.5,
 59.8,60.0,60.2,60.8,61.0,60.5,60.3,60.0,81.0,64.0,
 59.8,60.0,59.6,59.9,60.2,87.0,71.0,61.3,61.0,61.8,
 60.2,59.8,68.1,59.5,60.2,65.6,60.0,60.6,61.8,60.5,
 60.8,61.0,61.5,63.6,61.5,81.0,72.0,61.2,61.0,61.4,
 86.0,75.0,72.0,61.2,60.8,61.0,63.0,66.1,63.0,60.8,
 61.0,66.1,61.5,61.2,61.3,60.9];

// ---------- helpers ----------
function zip(t, v, name) {
  if (t.length !== v.length) throw new Error(name + ' length ' + v.length + ' vs ' + t.length);
  return t.map((x, i) => [x, v[i]]);
}
[[avgZ,'avgZ'],[avgC,'avgC'],[avgA,'avgA']].forEach(([a,n]) => zip(topT, a, n));
zip(peakT, peakZ, 'peakZ'); zip(peakT, peakC, 'peakC'); zip(peakT, peakA, 'peakA');
zip(botT, botZ, 'botZ'); zip(botT, botC, 'botC'); zip(botT, botA, 'botA');
zip(envT, envLo, 'envLo'); zip(envT, envHi, 'envHi');

const pad = n => String(n).padStart(2, '0');
const fmtHM = v => pad(Math.floor(Math.round(v) / 60)) + ':' + pad(Math.round(v) % 60);
const fmtHMS = v => fmtHM(v) + ':00';

const FONT = 'DejaVu Sans';
const CFONT = 'DejaVu Sans Condensed';
const GRID_L = 59, GRID_W = 2284, GRID_H = 504;
const plus = 'path://M2,0H3V2H5V3H3V5H2V3H0V2H2Z';

function xAxis(gi, fmt) {
  return {
    type: 'value', gridIndex: gi, min: 0, max: 1439, interval: 120,
    axisLine: { show: true, onZero: false, lineStyle: { color: '#000', width: 1.5 } },
    axisTick: { show: true, length: 5, lineStyle: { color: '#000', width: 1 } },
    minorTick: { show: true, splitNumber: 4, length: 5, lineStyle: { color: '#000', width: 1 } },
    axisLabel: { formatter: fmt, fontSize: 10, color: '#222', margin: 10, showMaxLabel: false, fontFamily: CFONT },
    splitLine: { show: true, lineStyle: { color: '#a8a8a8', width: 1 } },
    minorSplitLine: { show: true, lineStyle: { color: '#cfcabc', width: 0.8, type: [2, 2] } },
    name: 'time', nameLocation: 'middle', nameGap: 28,
    nameTextStyle: { fontSize: 12, color: '#111', fontFamily: FONT }
  };
}
function yAxis(gi, side) {
  const left = side === 'left';
  return {
    type: 'value', gridIndex: gi, min: 24, max: 108, interval: 12, position: side,
    axisLine: { show: true, onZero: false, lineStyle: { color: '#000', width: 1.5 } },
    axisTick: { show: true, length: 5, lineStyle: { color: '#000', width: 1 } },
    minorTick: { show: true, splitNumber: 3, length: 5, lineStyle: { color: '#000', width: 1 } },
    axisLabel: { fontSize: 10, color: '#222', margin: 10, fontFamily: CFONT },
    splitLine: { show: left, lineStyle: { color: '#aeaeae', width: 1.5 } },
    minorSplitLine: { show: left, lineStyle: { color: '#bcbcbc', width: 0.8, type: [3, 2] } },
    name: 'dB SPL', nameLocation: 'middle', nameGap: left ? 28 : 27, nameRotate: 90,
    nameTextStyle: { fontSize: 12, color: '#111', fontFamily: FONT }
  };
}

const bandSeries = {
  type: 'custom', xAxisIndex: 1, yAxisIndex: 2, z: 1, silent: true,
  data: [[0, 60]], encode: { x: 0, y: 1 },
  renderItem: (params, api) => {
    const pts = [];
    for (let i = 0; i < botT.length; i++) pts.push(api.coord([botT[i], botC[i]]));
    for (let i = botT.length - 1; i >= 0; i--) pts.push(api.coord([botT[i], botZ[i]]));
    return { type: 'polygon', shape: { points: pts }, style: { fill: 'rgba(240,150,130,0.22)' } };
  }
};
const spikeSeries = {
  type: 'custom', xAxisIndex: 1, yAxisIndex: 2, z: 1, silent: true,
  data: envT.map((t, i) => [t, envLo[i], envHi[i]]), encode: { x: 0, y: [1, 2] },
  renderItem: (params, api) => {
    const top = api.coord([api.value(0), api.value(2)]);
    const bot = api.coord([api.value(0), api.value(1)]);
    return { type: 'rect', shape: { x: top[0] - 1.2, y: top[1], width: 2.4, height: bot[1] - top[1] },
             style: { fill: 'rgba(240,150,130,0.38)' } };
  }
};

const legendText = { fontSize: 11, lineHeight: 12, color: '#111', fontFamily: CFONT };
const option = {
  animation: false,
  backgroundColor: '#ffffff',
  textStyle: { fontFamily: FONT },
  title: [
    { text: 'data from [421/mic0]\nstarting point is [20260226_000016]', left: 23, top: 12, padding: 0,
      textStyle: { fontSize: 15.5, fontWeight: 'bold', color: '#000', lineHeight: 16, fontFamily: CFONT } },
    { text: 'average and peak noise level (1 min sampling)', left: 58, top: 65, padding: 0,
      textStyle: { fontSize: 13, fontWeight: 'bold', color: '#000', fontFamily: CFONT } },
    { text: 'average noise level (5 min with 15s min/max dB envelope)', left: 58, top: 626, padding: 0,
      textStyle: { fontSize: 13, fontWeight: 'bold', color: '#000', fontFamily: CFONT } }
  ],
  grid: [
    { left: GRID_L, top: 84, width: GRID_W, height: GRID_H, show: true, backgroundColor: '#FFF8DC', borderColor: '#000', borderWidth: 1.5 },
    { left: GRID_L, top: 645, width: GRID_W, height: GRID_H, show: true, backgroundColor: '#FFF8DC', borderColor: '#000', borderWidth: 1.5 }
  ],
  xAxis: [xAxis(0, fmtHM), xAxis(1, fmtHMS)],
  yAxis: [yAxis(0, 'left'), yAxis(0, 'right'), yAxis(1, 'left'), yAxis(1, 'right')],
  legend: [
    { data: ['peak dB(Z)', 'peak dB(C)', 'peak dB(A)'], orient: 'vertical', left: 2164, top: 543, z: 20, padding: 0,
      itemWidth: 18, itemHeight: 7, itemGap: 1, icon: 'circle', selectedMode: false, textStyle: legendText },
    { data: ['avg dB(Z)', 'avg dB(C)', 'avg dB(A)'], orient: 'vertical', left: 2261, top: 543, z: 20, padding: 0,
      itemWidth: 21, itemHeight: 4, itemGap: 1, icon: 'rect', selectedMode: false, textStyle: legendText },
    { data: ['dB(Z)', 'dB(C)', 'dB(A)'], orient: 'vertical', left: 2279, top: 1105, z: 20, padding: 0,
      itemWidth: 22, itemHeight: 4, itemGap: 1, icon: 'rect', selectedMode: false, textStyle: legendText }
  ],
  graphic: [
    { type: 'rect', z: 15, shape: { x: 2156, y: 542, width: 184, height: 41, r: 3 },
      style: { fill: 'rgba(255,248,220,0.85)', stroke: '#d6c09c', lineWidth: 1 } },
    { type: 'rect', z: 15, shape: { x: 2276, y: 1103, width: 63, height: 41, r: 3 },
      style: { fill: 'rgba(255,248,220,0.85)', stroke: '#d6c09c', lineWidth: 1 } }
  ],
  series: [
    { type: 'scatter', name: 'peak dB(Z)', xAxisIndex: 0, yAxisIndex: 0, data: zip(peakT, peakZ), symbol: plus, symbolSize: 5, itemStyle: { color: '#1E90FF' }, z: 2 },
    { type: 'scatter', name: 'peak dB(C)', xAxisIndex: 0, yAxisIndex: 0, data: zip(peakT, peakC), symbol: plus, symbolSize: 5, itemStyle: { color: '#FF00FF' }, z: 2 },
    { type: 'scatter', name: 'peak dB(A)', xAxisIndex: 0, yAxisIndex: 0, data: zip(peakT, peakA), symbol: plus, symbolSize: 5, itemStyle: { color: '#2E8B57' }, z: 2 },
    { type: 'line', name: 'avg dB(Z)', xAxisIndex: 0, yAxisIndex: 0, data: zip(topT, avgZ), showSymbol: false, lineStyle: { width: 1.3, color: '#4682B4' }, itemStyle: { color: '#4682B4' }, z: 3 },
    { type: 'line', name: 'avg dB(C)', xAxisIndex: 0, yAxisIndex: 0, data: zip(topT, avgC), showSymbol: false, lineStyle: { width: 1.3, color: '#DA70D6' }, itemStyle: { color: '#DA70D6' }, z: 3 },
    { type: 'line', name: 'avg dB(A)', xAxisIndex: 0, yAxisIndex: 0, data: zip(topT, avgA), showSymbol: false, lineStyle: { width: 1.3, color: '#9ACD32' }, itemStyle: { color: '#9ACD32' }, z: 3 },
    bandSeries,
    spikeSeries,
    { type: 'line', name: 'dB(Z)', xAxisIndex: 1, yAxisIndex: 2, data: zip(botT, botZ), showSymbol: false, smooth: 0.2, lineStyle: { width: 1.6, color: '#DC143C' }, itemStyle: { color: '#DC143C' }, z: 3 },
    { type: 'line', name: 'dB(C)', xAxisIndex: 1, yAxisIndex: 2, data: zip(botT, botC), showSymbol: false, smooth: 0.2, lineStyle: { width: 1.6, color: '#FF8C00' }, itemStyle: { color: '#FF8C00' }, z: 3 },
    { type: 'line', name: 'dB(A)', xAxisIndex: 1, yAxisIndex: 2, data: zip(botT, botA), showSymbol: false, smooth: 0.2, lineStyle: { width: 1.6, color: '#FFD700' }, itemStyle: { color: '#FFD700' }, z: 3 }
  ]
};

const chart = echarts.init(document.getElementById('c'), null, { renderer: 'canvas', width: 2400, height: 1200 });
chart.setOption(option);
</script>
</body></html>
